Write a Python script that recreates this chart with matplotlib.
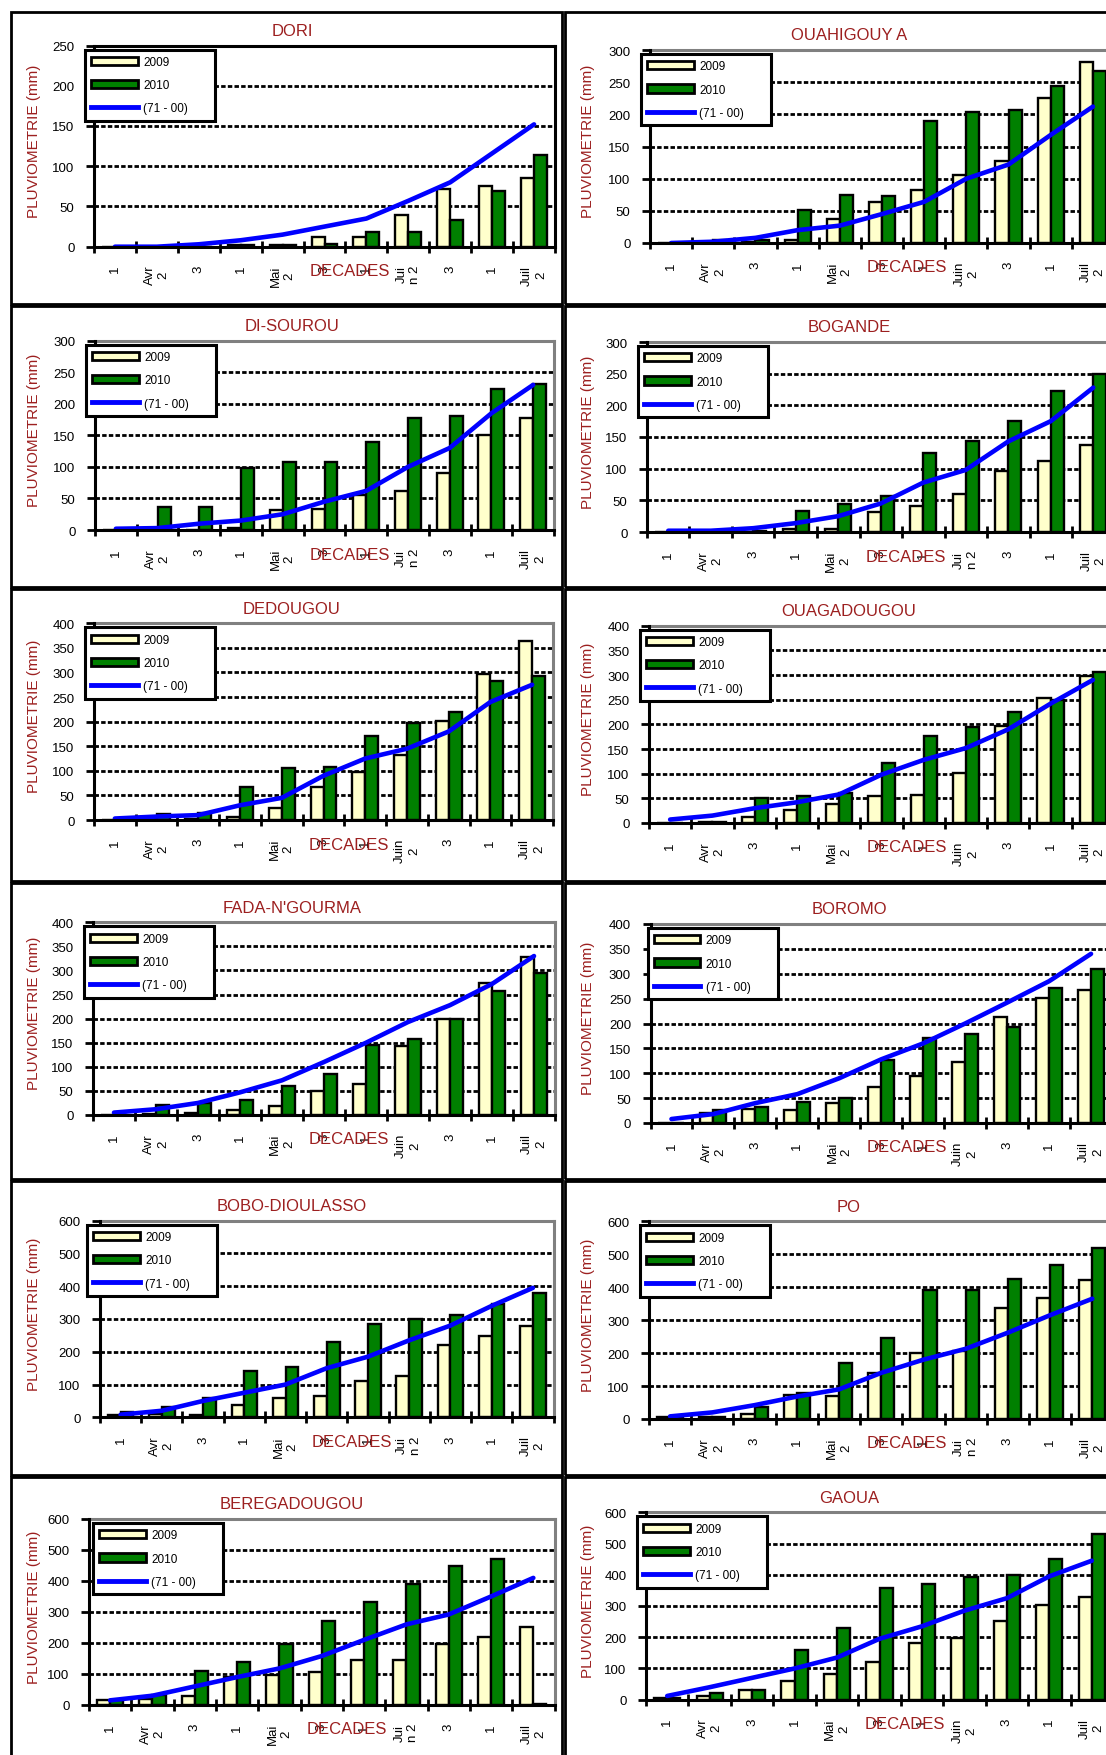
import numpy as np
import matplotlib.pyplot as plt
from matplotlib.patches import Rectangle, Patch
from matplotlib.lines import Line2D

plt.rcParams['font.family'] = ['Liberation Sans', 'DejaVu Sans']

# decades, april to mid july
labels_juin = ['1', 'Avr\n2', '3', '1', 'Mai\n2', '3', '1', 'Juin\n2', '3', '1', 'Juil\n2']
labels_jui_n = ['1', 'Avr\n2', '3', '1', 'Mai\n2', '3', '1', 'Jui\nn 2', '3', '1', 'Juil\n2']
legend_labels = ['2009', '2010', '(71 - 00)']

# cumulative rainfall (mm) per station
dori_2009 = [0, 0, 0, 2, 2, 12, 12, 40, 72, 76, 85]
dori_2010 = [0, 0, 0, 2, 2, 3, 18, 18, 33, 69, 114]
dori_normal = [0, 0, 3, 8, 15, 25, 35, 57, 80, 116, 152]

ouahigouya_2009 = [0, 0, 2, 4, 37, 63, 82, 106, 128, 225, 281]
ouahigouya_2010 = [0, 5, 4, 52, 74, 73, 190, 203, 206, 244, 268]
ouahigouya_normal = [0, 2, 8, 20, 27, 45, 64, 100, 122, 168, 212]

disourou_2009 = [0, 0, 0, 3, 32, 34, 55, 62, 90, 150, 177]
disourou_2010 = [0, 37, 37, 99, 108, 108, 140, 177, 180, 223, 231]
disourou_normal = [2, 3, 10, 15, 25, 45, 62, 100, 130, 185, 230]

bogande_2009 = [0, 0, 0, 5, 5, 31, 41, 60, 96, 112, 137]
bogande_2010 = [0, 0, 2, 33, 44, 57, 125, 143, 176, 223, 250]
bogande_normal = [2, 2, 6, 14, 25, 45, 78, 98, 143, 175, 228]

dedougou_2009 = [0, 2, 2, 7, 24, 68, 97, 133, 202, 297, 363]
dedougou_2010 = [0, 12, 15, 68, 106, 107, 170, 197, 220, 283, 293]
dedougou_normal = [3, 7, 10, 30, 45, 90, 125, 145, 180, 240, 275]

ouaga_2009 = [0, 2, 13, 27, 38, 55, 57, 101, 197, 254, 298]
ouaga_2010 = [0, 2, 50, 54, 60, 121, 177, 195, 226, 250, 306]
ouaga_normal = [7, 15, 30, 42, 58, 98, 128, 152, 190, 242, 290]

fada_2009 = [0, 3, 4, 11, 18, 49, 64, 144, 199, 275, 329]
fada_2010 = [0, 21, 24, 31, 61, 85, 145, 158, 200, 257, 294]
fada_normal = [5, 12, 25, 47, 72, 110, 150, 193, 228, 272, 330]

boromo_2009 = [0, 20, 29, 27, 40, 72, 94, 122, 213, 251, 268]
boromo_2010 = [0, 27, 33, 43, 50, 127, 171, 178, 193, 272, 310]
boromo_normal = [8, 18, 40, 58, 90, 128, 160, 200, 242, 285, 340]

bobo_2009 = [7, 10, 7, 38, 59, 64, 112, 127, 222, 249, 280]
bobo_2010 = [15, 32, 59, 142, 153, 231, 285, 300, 312, 346, 378]
bobo_normal = [8, 20, 50, 75, 100, 150, 185, 235, 280, 340, 395]

po_2009 = [5, 5, 15, 73, 71, 139, 200, 207, 336, 367, 423]
po_2010 = [3, 5, 37, 79, 169, 246, 390, 392, 425, 466, 518]
po_normal = [8, 20, 42, 68, 90, 140, 180, 213, 262, 315, 365]

berega_2009 = [15, 19, 28, 89, 97, 105, 145, 145, 197, 220, 251]
berega_2010 = [15, 32, 110, 138, 197, 272, 333, 390, 449, 471, 3]
berega_normal = [15, 30, 60, 90, 118, 158, 210, 260, 292, 350, 410]

gaoua_2009 = [5, 13, 32, 59, 82, 120, 182, 198, 253, 304, 330]
gaoua_2010 = [5, 20, 32, 159, 230, 358, 369, 392, 400, 451, 529]
gaoua_normal = [12, 40, 70, 100, 135, 195, 235, 285, 325, 395, 445]

YELLOW = '#FFFFCC'
GREEN = '#008000'
BLUE = '#0000FF'
RED = '#9C1F1F'

W, H = 1106, 1756
fig = plt.figure(figsize=(W / 100, H / 100), dpi=100)


def fx(x):
    return x / W


def fy(y):
    return 1 - y / H


cols = [(11, 562), (565, 1125)]
rows = [(13, 305), (307, 588), (590, 882), (884, 1180), (1182, 1476), (1478, 1765)]
title_x = [292, 849]


def panel(row, col, title, v2009, v2010, normal, ticks, ymax, ystep, plot,
          frame='#808080', leg_dx=-9):
    bx0, bx1 = cols[col]
    by0, by1 = rows[row]
    fig.add_artist(Rectangle((fx(bx0), fy(by1)), fx(bx1) - fx(bx0), fy(by0) - fy(by1),
                             transform=fig.transFigure, fill=False, ec='black', lw=2))
    l, r, t, b = plot
    ax = fig.add_axes([fx(l), fy(b), fx(r) - fx(l), fy(t) - fy(b)])
    x = np.arange(len(ticks))
    w = 0.31
    ax.bar(x - w / 2, v2009, w, color=YELLOW, edgecolor='black', lw=1.7, zorder=3)
    ax.bar(x + w / 2, v2010, w, color=GREEN, edgecolor='black', lw=1.7, zorder=3)
    ax.plot(x, normal, color=BLUE, lw=3.3, zorder=4, solid_capstyle='round')
    ax.set_xlim(-0.5, len(ticks) - 0.5)
    ax.set_ylim(0, ymax)

    yt = np.arange(0, ymax + 1, ystep)
    ax.set_yticks(yt)
    for v in yt[1:-1]:
        ax.axhline(v, color='black', lw=2, ls=(0, (1.6, 0.8)), zorder=1)
    ax.tick_params(axis='y', direction='out', length=6, width=2, pad=8, labelsize=9.5)

    ax.set_xticks(x)
    ax.set_xticklabels(ticks, rotation=90, ha='center', va='top', multialignment='center')
    ax.set_xticks(np.arange(-0.5, len(ticks)), minor=True)
    ax.tick_params(axis='x', which='major', length=0, pad=13, labelsize=9.5)
    ax.tick_params(axis='x', which='minor', direction='inout', length=9, width=2)

    for s in ['left', 'bottom']:
        ax.spines[s].set_linewidth(2.2)
        ax.spines[s].set_zorder(5)
    for s in ['top', 'right']:
        ax.spines[s].set_color(frame)
        ax.spines[s].set_linewidth(2.2)

    fig.text(fx(title_x[col]), fy(t - 15), title, ha='center', va='center',
             color=RED, fontsize=12)
    fig.text(fx(bx0 + 23), fy((t + b) / 2 - 6), 'PLUVIOMETRIE (mm)', rotation=90,
             ha='center', va='center', color=RED, fontsize=11)
    fig.text(fx(l + 6.1 * (r - l) / 11), fy(b + 24), 'DECADES', ha='center', va='center',
             color=RED, fontsize=12)

    handles = [Patch(fc=YELLOW, ec='black', lw=2),
               Patch(fc=GREEN, ec='black', lw=2),
               Line2D([], [], color=BLUE, lw=3.5)]
    lx, ly = l + leg_dx, t + 4
    leg = ax.legend(handles, legend_labels, loc='upper left', mode='expand',
                    bbox_to_anchor=(fx(lx), fy(ly + 76), 130 / W, 76 / H),
                    bbox_transform=fig.transFigure, borderaxespad=0,
                    fontsize=8.5, frameon=True, fancybox=False, framealpha=1,
                    edgecolor='black', borderpad=0.55, labelspacing=0.95,
                    handlelength=3.9, handletextpad=0.5)
    leg.get_frame().set_linewidth(2.2)
    leg.set_zorder(6)
    return ax


panel(0, 0, 'DORI', dori_2009, dori_2010, dori_normal, labels_jui_n, 250, 50,
      (94, 555, 46.5, 247.7), frame='black')
panel(0, 1, 'OUAHIGOUY A', ouahigouya_2009, ouahigouya_2010, ouahigouya_normal, labels_juin,
      300, 50, (650, 1114, 51, 244))
panel(1, 0, 'DI-SOUROU', disourou_2009, disourou_2010, disourou_normal, labels_jui_n, 300, 50,
      (95, 554, 341.7, 531))
panel(1, 1, 'BOGANDE', bogande_2009, bogande_2010, bogande_normal, labels_jui_n, 300, 50,
      (647, 1114.5, 343, 533))
panel(2, 0, 'DEDOUGOU', dedougou_2009, dedougou_2010, dedougou_normal, labels_juin, 400, 50,
      (94, 553, 624.3, 821))
panel(2, 1, 'OUAGADOUGOU', ouaga_2009, ouaga_2010, ouaga_normal, labels_juin, 400, 50,
      (649, 1114, 626.7, 824))
panel(3, 0, "FADA-N'GOURMA", fada_2009, fada_2010, fada_normal, labels_juin, 400, 50,
      (93, 555, 923.3, 1116))
panel(3, 1, 'BOROMO', boromo_2009, boromo_2010, boromo_normal, labels_juin, 400, 50,
      (650.5, 1112, 925, 1124), leg_dx=-3)
panel(4, 0, 'BOBO-DIOULASSO', bobo_2009, bobo_2010, bobo_normal, labels_jui_n, 600, 100,
      (100, 553.5, 1221.7, 1418.3), leg_dx=-13)
panel(4, 1, 'PO', po_2009, po_2010, po_normal, labels_jui_n, 600, 100,
      (649, 1113.4, 1222.3, 1420))
panel(5, 0, 'BEREGADOUGOU', berega_2009, berega_2010, berega_normal, labels_jui_n, 600, 100,
      (89, 554.5, 1520, 1706), leg_dx=4)
panel(5, 1, 'GAOUA', gaoua_2009, gaoua_2010, gaoua_normal, labels_juin, 600, 100,
      (646, 1113, 1513.3, 1700.7))

fig.savefig('out.png', dpi=100, facecolor='white')
